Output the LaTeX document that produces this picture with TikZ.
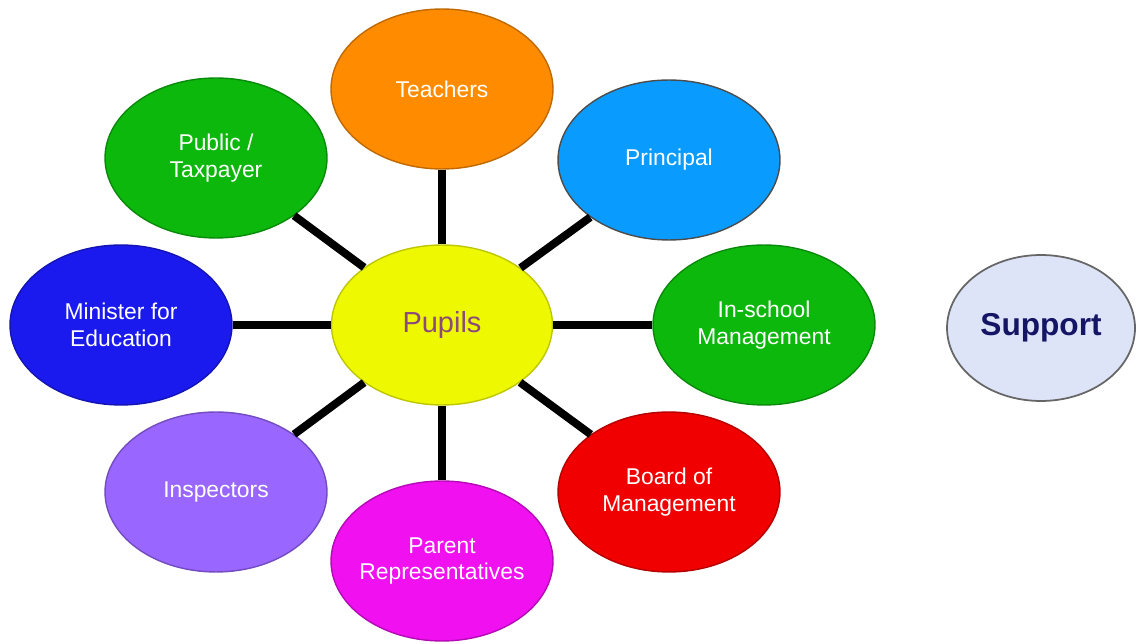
\documentclass[tikz,border=0pt]{standalone}
\usepackage{fontspec}
\setmainfont{Liberation Sans}
\usepackage{xcolor}
\usepackage{tikz}
\usetikzlibrary{shapes.geometric,positioning}
\definecolor{pporange}{HTML}{FF8C00}
\definecolor{ppblue}{HTML}{0A9BFF}
\definecolor{ppgreen}{HTML}{0DB80D}
\definecolor{ppred}{HTML}{F00000}
\definecolor{ppmagenta}{HTML}{F010F0}
\definecolor{pplilac}{HTML}{9966FF}
\definecolor{ppnavy}{HTML}{1A1AEE}
\definecolor{ppyellow}{HTML}{EEF800}
\definecolor{pptext}{HTML}{8A4A7A}
\definecolor{ppsupfill}{HTML}{DDE4F8}
\definecolor{ppsuptext}{HTML}{151565}
\begin{document}
\begin{tikzpicture}[
  x=0.02cm, y=-0.02cm,
  font=\fontsize{13}{15}\selectfont,
  blob/.style={ellipse, draw=#1!75!black, line width=0.8pt, fill=#1, text=white, align=center,
    inner sep=0pt, minimum width=4.44cm, minimum height=3.2cm},
  hub/.style={ellipse, draw=ppyellow!80!black, line width=0.8pt, fill=ppyellow, text=pptext,
    inner sep=0pt, minimum width=4.42cm, minimum height=3.2cm, font=\fontsize{16.5}{19}\selectfont},
  spoke/.style={line width=4.5pt, black}
]
\useasboundingbox (0,0) rectangle (1136,644);
\node[hub] (pu) at (442,325) {Pupils};
\node[blob=pporange] (te) at (442,89) {Teachers};
\node[blob=ppblue, draw=black!70] (pr) at (669,160) {Principal};
\node[blob=ppgreen] (in) at (764,325) {In-school\\Management};
\node[blob=ppred] (bo) at (669,492) {Board of\\Management};
\node[blob=ppmagenta, inner xsep=-2.5mm] (pa) at (442,561) {Parent\\Representatives};
\node[blob=pplilac] (is) at (216,492) {Inspectors};
\node[blob=ppnavy] (mi) at (121,325) {Minister for\\Education};
\node[blob=ppgreen] (ta) at (216,158) {Public /\\Taxpayer};
\node[ellipse, draw=black!60, line width=1pt, fill=ppsupfill, text=ppsuptext, inner sep=0pt,
  minimum width=3.76cm, minimum height=2.92cm, font=\fontsize{18}{21}\selectfont\bfseries]
  (su) at (1041,328) {Support};
\draw[spoke] (pu) -- (te);
\draw[spoke] (pu) -- (pr);
\draw[spoke] (pu) -- (in);
\draw[spoke] (pu) -- (bo);
\draw[spoke] (pu) -- (pa);
\draw[spoke] (pu) -- (is);
\draw[spoke] (pu) -- (mi);
\draw[spoke] (pu) -- (ta);
\end{tikzpicture}
\end{document}
